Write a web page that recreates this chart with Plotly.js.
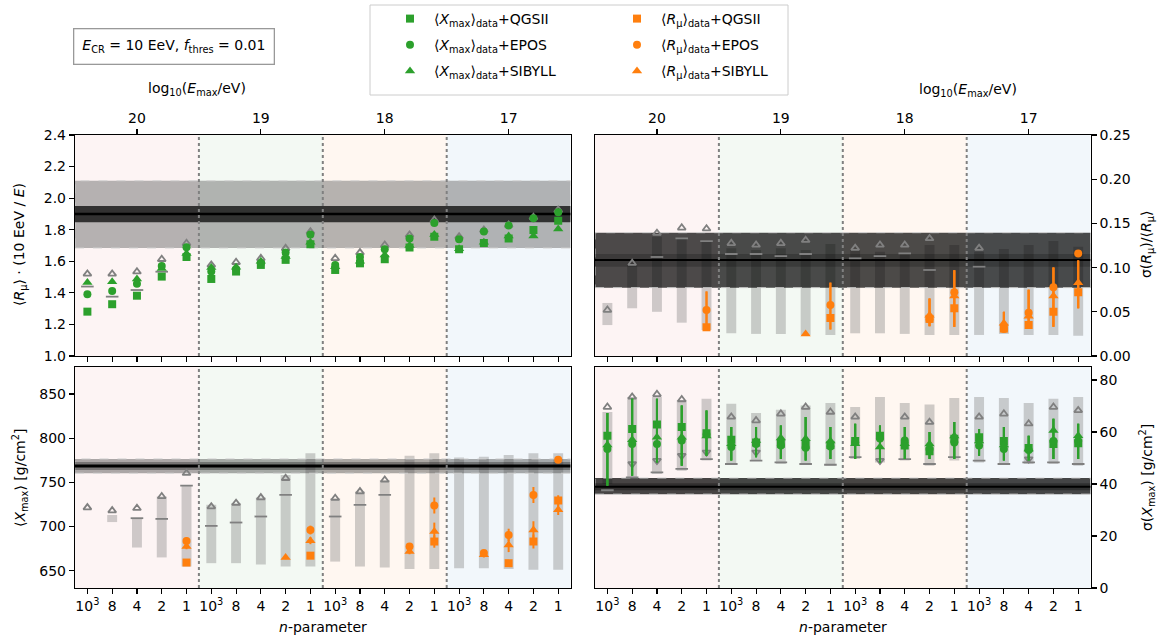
<!DOCTYPE html>
<html><head><meta charset="utf-8">
<script src="https://cdn.plot.ly/plotly-3.0.1.min.js"></script>
<style>html,body{margin:0;padding:0;background:#fff}#chart{width:1165px;height:637px}</style>
</head><body><div id="chart"></div>
<script>
// ---------- data ----------
const nParams = ['10<sup>3</sup>','8','4','2','1'];
const emaxLabels = ['20','19','18','17'];
const categories = [].concat(...emaxLabels.map(() => nParams));

// top-left: <R_mu>*(10 EeV/E), green (Xmax data) per model
const rmuQGS = [1.281,1.328,1.382,1.503,1.627,1.488,1.535,1.577,1.609,1.708,1.545,1.587,1.613,1.687,1.756,1.676,1.716,1.745,1.798,1.857];
const rmuEPOS = [1.391,1.412,1.458,1.570,1.689,1.535,1.551,1.587,1.655,1.769,1.577,1.627,1.676,1.745,1.842,1.739,1.788,1.826,1.872,1.910];
const rmuSIB = [1.465,1.471,1.488,1.555,1.650,1.560,1.562,1.600,1.630,1.720,1.565,1.600,1.640,1.700,1.770,1.680,1.720,1.760,1.760,1.805];
const rmuMCUp = [1.52,1.52,1.534,1.613,1.714,1.577,1.594,1.619,1.682,1.788,1.619,1.655,1.703,1.767,1.862,1.756,1.798,1.83,1.879,1.925];
const rmuMCMid = [1.44,1.376,1.418,1.534,null,null,null,null,null,null,null,null,null,null,null,null,null,null,null,null];
const rmuBand = {outer:[1.684,2.11], inner:[1.847,1.95], center:1.90};

// top-right: sigma(R_mu)/<R_mu>, orange (R_mu data)
const sRmuQGS = [null,null,null,null,0.0325,null,null,null,null,0.043,null,null,null,0.042,0.054,null,0.031,0.035,0.050,0.072];
const sRmuEPOS = [null,null,null,null,0.052,null,null,null,null,0.0577,null,null,null,0.0415,0.072,null,0.0306,0.049,0.0777,0.116];
const sRmuSIB = [null,null,null,null,null,null,null,null,0.025,null,null,null,null,0.046,0.068,null,0.037,0.045,0.068,0.083];
const sRmuErrLo = [null,null,null,null,0.0297,null,null,null,null,0.030,null,null,null,0.0337,0.033,null,0.0275,0.032,0.033,0.054];
const sRmuErrHi = [null,null,null,null,0.073,null,null,null,null,0.083,null,null,null,0.065,0.097,null,0.050,0.075,0.100,0.108];
const sRmuMCLo = [0.035,0.054,0.050,0.0377,0.0294,0.0257,0.025,0.025,0.0238,0.0238,0.0257,0.0257,0.025,0.0238,0.0238,0.0238,0.025,0.0238,0.0238,0.023];
const sRmuMCHi = [0.060,0.1045,0.135,0.133,0.129,0.122,0.120,0.122,0.120,0.1267,0.120,0.118,0.115,0.1256,0.1256,0.118,0.121,0.1256,0.130,0.1237];
const sRmuMCUp = [0.052,0.105,0.139,0.145,0.144,0.1275,0.1256,0.1275,0.131,null,0.122,0.1256,0.1256,0.133,null,0.122,null,null,null,null];
const sRmuMCMid = [null,null,0.112,0.133,0.130,0.1154,0.1154,0.113,0.1154,null,0.1105,0.113,0.116,0.0973,null,0.101,null,null,null,null];
const sRmuBand = {outer:[0.0773,0.1395], inner:[0.101,0.1153], center:0.1086};

// bottom-left: <Xmax>, orange (R_mu data)
const xmaxQGS = [null,null,null,null,659.2,null,null,null,null,667,null,null,null,null,683,null,null,658.5,683,729.4];
const xmaxEPOS = [null,null,null,null,683.7,null,null,null,null,696,null,null,null,677.3,723.7,null,670,690.5,735.7,775.4];
const xmaxSIB = [null,null,null,null,677.3,null,null,null,665,684,null,null,null,671.6,694.4,null,668,679,696,719];
const xmaxErrQGS = [0,0,0,0,2,0,0,0,0,3,0,0,0,0,7,0,0,3,8,6];
const xmaxErrEPOS = [0,0,0,0,4,0,0,0,0,5,0,0,0,3,9,0,3,7,9,2];
const xmaxErrSIB = [0,0,0,0,3,0,0,0,2,4,0,0,0,3,10,0,3,8,10,6];
const xmaxMCLo = [null,705,676.2,665,654.7,658.5,658.5,657,654.7,654.7,660.3,654.7,653.6,652,652,652.8,652.8,652,651,651];
const xmaxMCHi = [null,713,709.4,734,746.3,724.5,726.4,732.7,758.4,783,732,739.5,752.7,780.2,782.8,778,779,781,782.8,782.8];
const xmaxMCUp = [721.4,718,720.7,734,760.3,722.5,726.4,732.7,754.6,null,732,739.5,752.7,null,null,null,null,null,null,null];
const xmaxMCMid = [null,null,709.4,708.6,746.3,700.7,704.5,711.3,735.7,null,711.3,724.5,735.7,null,null,null,null,null,null,null];
const xmaxBand = {outer:[760.3,776.5], inner:[764,773], center:768.5};

// bottom-right: sigma(Xmax), green (Xmax data)
const sXmaxQGS = [58.6,61.2,62.9,61.9,59.5,57.0,56.0,55.5,55.0,55.0,56.5,58.6,54.8,52.6,57.4,58.0,56.5,53.8,55.4,55.7];
const sXmaxEPOS = [53.5,55.4,55.4,56.7,59.0,54.2,55.4,54.8,53.9,54.4,56.1,57.5,56.7,53.5,56.0,54.8,53.5,53.1,56.5,56.5];
const sXmaxSIB = [55.0,57.0,58.0,58.0,58.5,55.5,56.7,57.7,57.4,56.5,55.5,54.2,55.5,55.4,58.5,56.5,55.0,53.5,60.6,58.6];
const sXmaxErrLo = [39.3,43.2,48.3,47.0,50.9,49.0,50.3,49.6,49.0,49.6,49.6,48.3,49.6,49.6,49.6,50.9,49.0,49.0,49.6,49.6];
const sXmaxErrHi = [67.3,72.8,72.8,70.2,68.3,61.9,61.9,62.5,65.8,61.9,63.2,62.5,61.9,60.0,63.8,61.2,61.9,58.6,65.1,63.2];
const sXmaxMCLo = [40,41.9,43.8,45.1,49,47.7,49,47.7,47.7,47,49.6,48.3,49,47,49,48.3,47.7,47.7,47.7,47];
const sXmaxMCHi = [67.7,73.5,73.5,72.2,72.8,70.9,67.3,68.6,70.2,71.2,69.6,73.5,71.2,70.6,73.1,73.5,73.1,71.2,72.8,73.5];
const sXmaxMCUp = [69.6,73.5,74.5,72.5,null,65.8,64.4,67,69.6,67.7,65.8,null,65.8,63.8,null,65.8,67,63.2,69.6,68.3];
const sXmaxMCDown = [null,47.7,49,50.9,52.2,null,52.2,null,null,null,null,49,null,null,null,null,null,49.6,null,null];
const sXmaxMCLow = [37.6,42.5,44.5,45.8,49.6,47.7,49,48.3,47.7,47.4,50.3,null,49.6,47.7,50.3,49,47.7,48.3,48.3,47.7];
const sXmaxBand = {outer:[36.1,42.3], inner:[37.6,40.3], center:38.9};

// ---------- styles ----------
const FONT = 'DejaVu Sans, sans-serif';
const GREEN = '#2ca02c', ORANGE = '#ff7f0e', GRAY = '#808080';
const groupFills = ['rgba(214,39,40,0.05)','rgba(44,160,44,0.06)','rgba(255,127,14,0.06)','rgba(31,119,180,0.06)'];
const idx = categories.map((_, i) => i);
const xr = [-0.5, categories.length - 0.5];

const traces = [];

function mcBars(xa, ya, lo, hi) {
  traces.push({type:'bar', xaxis:xa, yaxis:ya, x:idx, base:lo,
    y: hi.map((h,i) => (h==null||lo[i]==null) ? null : h - lo[i]),
    width:0.4, marker:{color:'rgba(128,128,128,0.38)', line:{width:0}},
    showlegend:false, hoverinfo:'skip'});
}
function band(xa, ya, b, outerFill, innerFill, lineW) {
  const rect = (r, fill, edge) => ({type:'scatter', mode:'lines', xaxis:xa, yaxis:ya,
    x:[xr[0],xr[1],xr[1],xr[0],xr[0]], y:[r[0],r[0],r[1],r[1],r[0]], fill:'toself', fillcolor:fill,
    line:{color:edge, width:1, dash:'dash'}, showlegend:false, hoverinfo:'skip'});
  traces.push(rect(b.outer, outerFill, 'rgba(210,210,210,0.9)'));
  traces.push(rect(b.inner, innerFill, 'rgba(0,0,0,0)'));
  traces.push({type:'scatter', mode:'lines', xaxis:xa, yaxis:ya, x:xr, y:[b.center,b.center],
    line:{color:'#000', width:lineW}, showlegend:false, hoverinfo:'skip'});
}
function grayMarks(xa, ya, y, symbol, size) {
  traces.push({type:'scatter', mode:'markers', xaxis:xa, yaxis:ya, x:idx, y:y,
    marker:{symbol:symbol, size:size, color:GRAY, line:{color:GRAY, width:1.8}},
    showlegend:false, hoverinfo:'skip'});
}
function pts(xa, ya, y, symbol, color, opts) {
  const t = {type:'scatter', mode:'markers', xaxis:xa, yaxis:ya, x:idx, y:y,
    marker:{symbol:symbol, size: symbol==='triangle-up' ? 9 : 8, color:color, line:{width:0}},
    showlegend:false, hoverinfo:'skip'};
  Object.assign(t, opts || {});
  traces.push(t);
}
function errRange(v, lo, hi, color) {
  return {type:'data', symmetric:false, color:color, thickness:2, width:0,
    array: v.map((y,i) => (y==null||hi[i]==null) ? 0 : hi[i]-y),
    arrayminus: v.map((y,i) => (y==null||lo[i]==null) ? 0 : y-lo[i])};
}

// bars (bar layer, beneath scatter)
mcBars('x2','y2', sRmuMCLo, sRmuMCHi);
mcBars('x3','y3', xmaxMCLo, xmaxMCHi);
mcBars('x4','y4', sXmaxMCLo, sXmaxMCHi);

// bands
band('x','y', rmuBand, 'rgba(110,110,110,0.5)', 'rgba(0,0,0,0.72)', 2.5);
band('x2','y2', sRmuBand, 'rgba(0,0,0,0.7)', 'rgba(0,0,0,0.2)', 2);
band('x3','y3', xmaxBand, 'rgba(70,70,70,0.45)', 'rgba(0,0,0,0.3)', 3);
band('x4','y4', sXmaxBand, 'rgba(0,0,0,0.72)', 'rgba(0,0,0,0.3)', 2);

// gray MC markers
grayMarks('x','y', rmuMCUp, 'triangle-up-open', 7);
grayMarks('x','y', rmuMCMid, 'line-ew', 9);
grayMarks('x2','y2', sRmuMCUp, 'triangle-up-open', 7);
grayMarks('x2','y2', sRmuMCMid, 'line-ew', 9);
grayMarks('x3','y3', xmaxMCUp, 'triangle-up-open', 7);
grayMarks('x3','y3', xmaxMCMid, 'line-ew', 9);
grayMarks('x4','y4', sXmaxMCUp, 'triangle-up-open', 7);
grayMarks('x4','y4', sXmaxMCDown, 'triangle-down-open', 7);
grayMarks('x4','y4', sXmaxMCLow, 'line-ew', 9);

// data points
pts('x','y', rmuSIB, 'triangle-up', GREEN);
pts('x','y', rmuEPOS, 'circle', GREEN);
pts('x','y', rmuQGS, 'square', GREEN);

const models = [['QGSII','square'],['EPOS','circle'],['SIBYLL','triangle-up']];
const sXmaxVals = [sXmaxQGS, sXmaxEPOS, sXmaxSIB];
const sRmuVals = [sRmuQGS, sRmuEPOS, sRmuSIB];
const xmaxVals = [xmaxQGS, xmaxEPOS, xmaxSIB];
const xmaxErrs = [xmaxErrQGS, xmaxErrEPOS, xmaxErrSIB];
models.forEach(([m, sym], k) => {
  pts('x4','y4', sXmaxVals[k], sym, GREEN, {error_y: errRange(sXmaxVals[k], sXmaxErrLo, sXmaxErrHi, GREEN),
    showlegend:true, legend:'legend', legendgroup:'g'+k,
    name:'⟨<i>X</i><sub>max</sub>⟩<sub>data</sub>+' + m});
  pts('x2','y2', sRmuVals[k], sym, ORANGE, {error_y: errRange(sRmuVals[k], sRmuErrLo, sRmuErrHi, ORANGE),
    showlegend:true, legend:'legend2', legendgroup:'o'+k,
    name:'⟨<i>R</i><sub>μ</sub>⟩<sub>data</sub>+' + m});
  pts('x3','y3', xmaxVals[k], sym, ORANGE, {error_y:{type:'data', array:xmaxErrs[k], color:ORANGE, thickness:2, width:0}});
});

// dummy traces for the top (E_max) axes
traces.push({type:'scatter', x:[null], y:[null], xaxis:'x5', yaxis:'y', showlegend:false, hoverinfo:'skip'});
traces.push({type:'scatter', x:[null], y:[null], xaxis:'x6', yaxis:'y2', showlegend:false, hoverinfo:'skip'});

// ---------- layout ----------
const W = 1165, H = 637;
const px = v => v / W, py = v => 1 - v / H;
const xL = [px(75), px(570.6)], xR = [px(595), px(1090.6)];
const yT = [py(356), py(135)], yB = [py(588), py(367)];
const tickFont = {family:FONT, size:14, color:'#000'};
const base = {showgrid:false, zeroline:false, showline:true, linecolor:'#000', linewidth:1.2, mirror:true,
  ticks:'outside', ticklen:5, tickwidth:1.1, tickcolor:'#000', tickfont:tickFont};
const xBase = Object.assign({}, base, {range:xr, tickmode:'array', tickvals:idx, ticktext:categories});
const emaxPos = emaxLabels.map((_, g) => g * nParams.length + Math.floor(nParams.length / 2));

const shapes = [];
[['x','y'],['x2','y2'],['x3','y3'],['x4','y4']].forEach(([xa, ya]) => {
  groupFills.forEach((f, g) => {
    shapes.push({type:'rect', layer:'below', xref:xa, yref:ya+' domain',
      x0:g*nParams.length-0.5, x1:(g+1)*nParams.length-0.5, y0:0, y1:1, fillcolor:f, line:{width:0}});
    if (g > 0) shapes.push({type:'line', layer:'above', xref:xa, yref:ya+' domain',
      x0:g*nParams.length-0.5, x1:g*nParams.length-0.5, y0:0, y1:1, line:{color:GRAY, width:2, dash:'dot'}});
  });
});
shapes.push({type:'rect', xref:'paper', yref:'paper', x0:px(370), x1:px(788), y0:py(95), y1:py(5),
  line:{color:'#cccccc', width:1}, fillcolor:'rgba(255,255,255,0.8)', layer:'below'});

const annFont = {family:FONT, size:14, color:'#000'};
const ann = (x, y, text, angle) => ({xref:'paper', yref:'paper', x:px(x), y:py(y), text:text,
  showarrow:false, font:annFont, textangle:angle||0, xanchor:'center', yanchor:'middle'});
const annotations = [
  Object.assign(ann(174, 46.5, '<i>E</i><sub>CR</sub> = 10 EeV, <i>f</i><sub>thres</sub> = 0.01'),
    {bordercolor:'#999', borderwidth:1.3, borderpad:8, bgcolor:'#fff'}),
  ann(197, 89, 'log<sub>10</sub>(<i>E</i><sub>max</sub>/eV)'),
  ann(968, 90, 'log<sub>10</sub>(<i>E</i><sub>max</sub>/eV)'),
  ann(323, 627, '<i>n</i>-parameter'),
  ann(843, 627, '<i>n</i>-parameter'),
  ann(20, 245, '⟨<i>R</i><sub>μ</sub>⟩ · (10 EeV / <i>E</i>)', -90),
  ann(20, 478, '⟨<i>X</i><sub>max</sub>⟩ [g/cm<sup>2</sup>]', -90),
  ann(1147, 245, 'σ(<i>R</i><sub>μ</sub>)/⟨<i>R</i><sub>μ</sub>⟩', -90),
  ann(1147, 478, 'σ(<i>X</i><sub>max</sub>) [g/cm<sup>2</sup>]', -90)
];

const legendBase = {bgcolor:'rgba(0,0,0,0)', borderwidth:0, font:{family:FONT, size:14, color:'#000'},
  xanchor:'left', yanchor:'top', yref:'paper', xref:'paper', tracegroupgap:5, itemwidth:38};

const layout = {
  width:W, height:H, margin:{l:0, r:0, t:0, b:0}, paper_bgcolor:'#fff', plot_bgcolor:'rgba(0,0,0,0)',
  font:{family:FONT, size:14, color:'#000'}, barmode:'overlay', hovermode:false,
  xaxis: Object.assign({}, xBase, {domain:xL, anchor:'y', showticklabels:false}),
  xaxis2: Object.assign({}, xBase, {domain:xR, anchor:'y2', showticklabels:false}),
  xaxis3: Object.assign({}, xBase, {domain:xL, anchor:'y3'}),
  xaxis4: Object.assign({}, xBase, {domain:xR, anchor:'y4'}),
  xaxis5: Object.assign({}, base, {overlaying:'x', anchor:'y', side:'top', showline:false, mirror:false,
    range:xr, tickmode:'array', tickvals:emaxPos, ticktext:emaxLabels}),
  xaxis6: Object.assign({}, base, {overlaying:'x2', anchor:'y2', side:'top', showline:false, mirror:false,
    range:xr, tickmode:'array', tickvals:emaxPos, ticktext:emaxLabels}),
  yaxis: Object.assign({}, base, {domain:yT, anchor:'x', range:[1.0,2.4], tick0:1.0, dtick:0.2, tickformat:'.1f'}),
  yaxis2: Object.assign({}, base, {domain:yT, anchor:'x2', side:'right', range:[0,0.25], tick0:0, dtick:0.05, tickformat:'.2f'}),
  yaxis3: Object.assign({}, base, {domain:yB, anchor:'x3', range:[630.4,880.5], tick0:650, dtick:50}),
  yaxis4: Object.assign({}, base, {domain:yB, anchor:'x4', side:'right', range:[0,85], tick0:0, dtick:20}),
  legend: Object.assign({}, legendBase, {x:px(386), y:py(3)}),
  legend2: Object.assign({}, legendBase, {x:px(613), y:py(3)}),
  shapes: shapes,
  annotations: annotations
};

Plotly.newPlot('chart', traces, layout, {displayModeBar:false, staticPlot:true});
</script>
</body></html>
